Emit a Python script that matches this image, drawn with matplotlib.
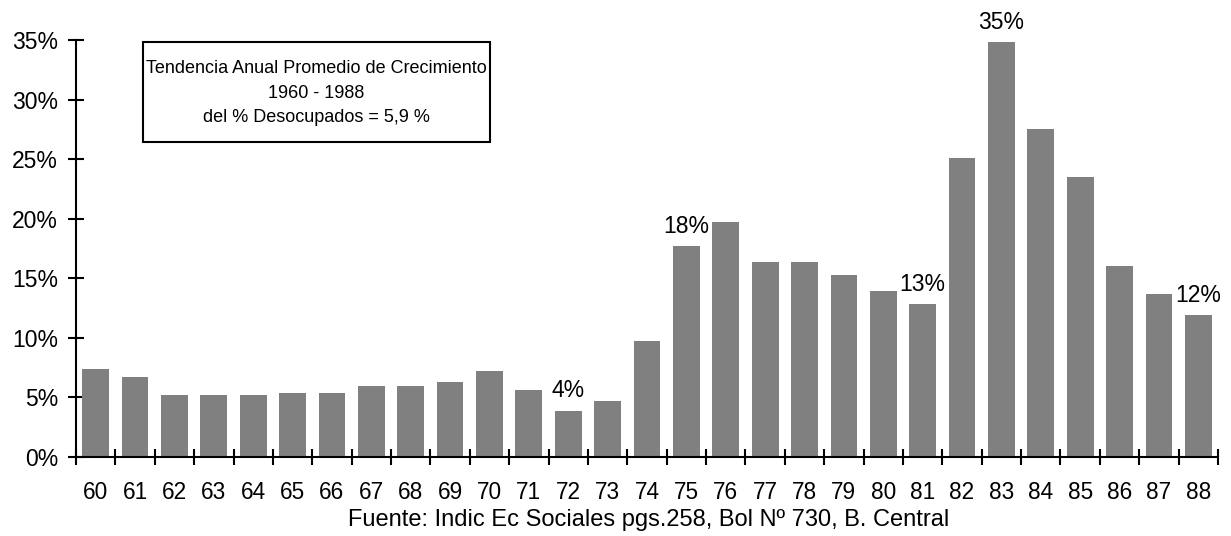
import matplotlib.pyplot as plt
from matplotlib import font_manager
from matplotlib.patches import Rectangle

# unemployment growth by year (1960-1988)
years = ["60", "61", "62", "63", "64", "65", "66", "67", "68", "69",
         "70", "71", "72", "73", "74", "75", "76", "77", "78", "79",
         "80", "81", "82", "83", "84", "85", "86", "87", "88"]
values = [7.4, 6.7, 5.2, 5.2, 5.2, 5.4, 5.4, 6.0, 6.0, 6.3,
          7.2, 5.6, 3.9, 4.7, 9.7, 17.7, 19.7, 16.4, 16.4, 15.3,
          13.9, 12.8, 25.1, 34.8, 27.5, 23.5, 16.0, 13.7, 11.9]
y_ticks = [0, 5, 10, 15, 20, 25, 30, 35]
y_tick_labels = ["0%", "5%", "10%", "15%", "20%", "25%", "30%", "35%"]
# callouts: (year, label)
callouts = [("72", "4%"), ("75", "18%"), ("81", "13%"), ("83", "35%"), ("88", "12%")]

BAR = "#808080"
plt.rcParams["font.family"] = ["Liberation Sans", "DejaVu Sans"]

# the note box text in the original is set tall but narrow
have_narrow = any(f.name == "Liberation Sans Narrow" for f in font_manager.fontManager.ttflist)
if have_narrow:
    box_font, box_size, box_spacing = ["Liberation Sans Narrow", "Liberation Sans"], 15.5, 1.32
else:
    box_font, box_size, box_spacing = ["Liberation Sans", "DejaVu Sans"], 13, 1.55

W, H = 1231, 536
fig = plt.figure(figsize=(W / 100, H / 100), dpi=100)
ax = fig.add_axes([76 / W, 1 - 457 / H, (1218 - 76) / W, (457 - 40) / H])

x = list(range(len(years)))
ax.bar(x, values, width=0.68, color=BAR, linewidth=0, zorder=2)

ax.set_xlim(-0.5, len(years) - 0.5)
ax.set_ylim(0, 35)

# category boundaries carry the x ticks, labels sit between them
ax.set_xticks([i + 0.5 for i in range(-1, len(years))])
ax.set_xticklabels([])
ax.set_xticks(x, minor=True)
ax.set_xticklabels(years, minor=True, fontsize=16.3)
ax.tick_params(axis="x", which="minor", length=0, pad=17)
ax.tick_params(axis="x", which="major", direction="inout", length=12, width=1.5)

ax.set_yticks(y_ticks)
ax.set_yticklabels(y_tick_labels, fontsize=16.5)
ax.tick_params(axis="y", direction="inout", length=12, width=1.5, pad=7)

for side in ("top", "right"):
    ax.spines[side].set_visible(False)
for side in ("left", "bottom"):
    ax.spines[side].set_linewidth(1.5)

for yr, lab in callouts:
    i = years.index(yr)
    ax.annotate(lab, (i, values[i]), xytext=(0, 6), textcoords="offset points",
                ha="center", va="bottom", fontsize=16.5, zorder=3,
                bbox=dict(facecolor="white", edgecolor="none", pad=0.5))

# note box
fig.patches.append(Rectangle((143 / W, 1 - 142 / H), (490 - 143) / W, 100 / H,
                             transform=fig.transFigure, facecolor="white",
                             edgecolor="black", linewidth=1.5, zorder=5))
fig.text(316 / W, 1 - 93 / H,
         "Tendencia Anual Promedio de Crecimiento\n1960 - 1988\ndel % Desocupados = 5,9 %",
         ha="center", va="center", fontsize=box_size, family=box_font,
         multialignment="center", linespacing=box_spacing, zorder=6)

fig.text(649 / W, 1 - 520 / H, "Fuente: Indic Ec Sociales pgs.258, Bol Nº 730, B. Central",
         ha="center", va="center", fontsize=17)

fig.savefig("out.png", dpi=100, facecolor="white")
